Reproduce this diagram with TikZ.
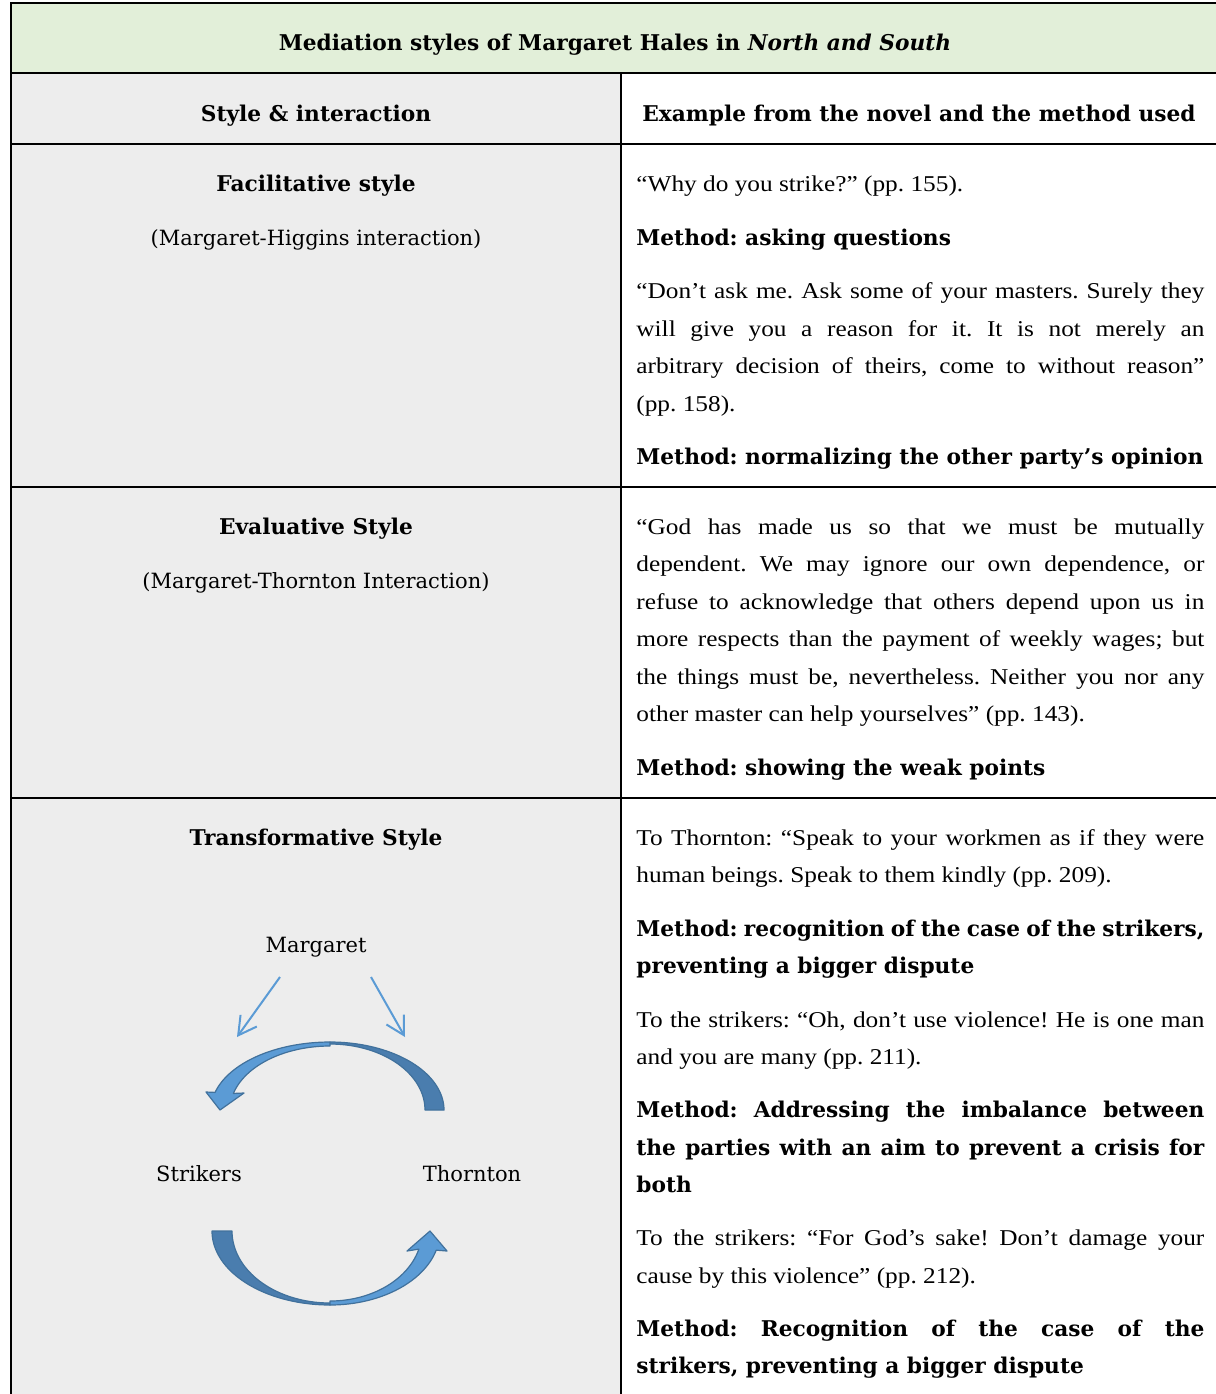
\documentclass[tikz,border=0pt]{standalone}
\usepackage{fontspec}
\setmainfont{DejaVu Serif}
\newfontfamily\qfont[FakeStretch=1.12]{Liberation Serif}
\usetikzlibrary{arrows.meta}
\definecolor{hdrgreen}{HTML}{E2EFD9}
\definecolor{cellgrey}{HTML}{EDEDED}
\definecolor{arrblue}{HTML}{5B9BD5}
\definecolor{arrdark}{HTML}{4A7DAE}
\definecolor{arredge}{HTML}{41719C}
\newcommand\jline[4]{\node[tx,#1] (#2) at (636,#3) {\makebox[284pt][s]{#4}};}
\newcommand\pline[4]{\node[tx,#1] (#2) at (636,#3) {#4};}
\frenchspacing
\begin{document}
\begin{tikzpicture}[x=0.5pt,y=-0.5pt,
  grid line/.style={line width=1.3pt, black},
  tx/.style={inner sep=0pt, anchor=base west},
  txc/.style={inner sep=0pt, anchor=base},
  bodyr/.style={font=\qfont\fontsize{11.3}{14}\selectfont\frenchspacing},
  bodyb/.style={font=\fontsize{10.85}{13}\selectfont\bfseries\frenchspacing},
  leftr/.style={font=\fontsize{10.5}{12}\selectfont},
  thin arrow/.style={draw=arrblue, line width=1pt, -{Straight Barb[length=9pt,width=10pt]}},
  band dark/.style={fill=arrdark, draw=arredge, line width=0.6pt, line join=round},
  band light/.style={fill=arrblue, draw=arredge, line width=0.6pt, line join=round},
]
\useasboundingbox (0,0) rectangle (1216,1394);
\fill[white] (0,0) rectangle (1216,1394);
\fill[hdrgreen] (11,3) rectangle (1216,73);
\fill[cellgrey] (11,73) rectangle (621,1394);
% grid
\draw[grid line] (11,1394) -- (11,3) -- (1216,3);
\draw[grid line] (11,73) -- (1216,73);
\draw[grid line] (11,144) -- (1216,144);
\draw[grid line] (11,487) -- (1216,487);
\draw[grid line] (11,798) -- (1216,798);
\draw[grid line] (621,73) -- (621,1394);
% header
\node[txc, bodyb] (title) at (615,50) {Mediation styles of Margaret Hales in \textit{North and South}};
\node[txc, bodyb] (hl) at (316,121) {Style \& interaction};
\node[txc, bodyb] (hr) at (919,121) {Example from the novel and the method used};
% left column
\node[txc, bodyb] (fac) at (316,191) {Facilitative style};
\node[txc, leftr] (facsub) at (316,245) {(Margaret-Higgins interaction)};
\node[txc, bodyb] (eva) at (316,534) {Evaluative Style};
\node[txc, leftr] (evasub) at (316,588) {(Margaret-Thornton Interaction)};
\node[txc, bodyb] (tra) at (316,845) {Transformative Style};
\node[txc, leftr] (marg) at (316,952) {Margaret};
\node[txc, leftr] (strk) at (199,1181) {Strikers};
\node[txc, leftr] (thor) at (472,1181) {Thornton};
% thin arrows from Margaret
\coordinate (mlA) at (280,977);
\coordinate (mlB) at (237,1037);
\coordinate (mrA) at (371,977);
\coordinate (mrB) at (405,1037);
\draw[thin arrow] (mlA) -- (mlB);
\draw[thin arrow] (mrA) -- (mrB);
% upper curved arrow
\draw[band dark] plot[domain=0:-90,samples=40] ({330+114*cos(\x)},{1110+68*sin(\x)})
  -- plot[domain=-90:0,samples=40] ({330+95*cos(\x)},{1110+66*sin(\x)}) -- cycle;
\draw[band light] plot[domain=-90:-165,samples=40] ({330+119*cos(\x)},{1110+68*sin(\x)})
  -- (206,1092) -- (220,1110) -- (244,1093)
  -- plot[domain=-165:-90,samples=40] ({330+100*cos(\x)},{1110+64*sin(\x)}) -- cycle;
% lower curved arrow
\draw[band dark] plot[domain=180:90,samples=40] ({330+118*cos(\x)},{1231+74*sin(\x)})
  -- plot[domain=90:180,samples=40] ({330+98*cos(\x)},{1231+72*sin(\x)}) -- cycle;
\draw[band light] plot[domain=90:15,samples=40] ({330+110*cos(\x)},{1231+74*sin(\x)})
  -- (447,1251) -- (430,1231) -- (407,1251)
  -- plot[domain=15:90,samples=40] ({330+92*cos(\x)},{1231+70*sin(\x)}) -- cycle;
% right column, row 3
\pline{bodyr}{r3a}{191}{“Why do you strike?” (pp. 155).}
\pline{bodyb}{r3b}{245}{Method: asking questions}
\jline{bodyr}{r3c}{298}{“Don’t ask me. Ask some of your masters. Surely they}
\jline{bodyr}{r3d}{336}{will give you a reason for it. It is not merely an}
\jline{bodyr}{r3e}{373}{arbitrary decision of theirs, come to without reason”}
\pline{bodyr}{r3f}{411}{(pp. 158).}
\pline{bodyb}{r3g}{464}{Method: normalizing the other party’s opinion}
% row 4
\jline{bodyr}{r4a}{534}{“God has made us so that we must be mutually}
\jline{bodyr}{r4b}{571}{dependent. We may ignore our own dependence, or}
\jline{bodyr}{r4c}{609}{refuse to acknowledge that others depend upon us in}
\jline{bodyr}{r4d}{646}{more respects than the payment of weekly wages; but}
\jline{bodyr}{r4e}{684}{the things must be, nevertheless. Neither you nor any}
\pline{bodyr}{r4f}{721}{other master can help yourselves” (pp. 143).}
\pline{bodyb}{r4g}{775}{Method: showing the weak points}
% row 5
\jline{bodyr}{r5a}{845}{To Thornton: “Speak to your workmen as if they were}
\pline{bodyr}{r5b}{882}{human beings. Speak to them kindly (pp. 209).}
\jline{bodyb}{r5c}{936}{Method: recognition of the case of the strikers,}
\pline{bodyb}{r5d}{973}{preventing a bigger dispute}
\jline{bodyr}{r5e}{1027}{To the strikers: “Oh, don’t use violence! He is one man}
\pline{bodyr}{r5f}{1064}{and you are many (pp. 211).}
\jline{bodyb}{r5g}{1117}{Method: Addressing the imbalance between}
\jline{bodyb}{r5h}{1155}{the parties with an aim to prevent a crisis for}
\pline{bodyb}{r5i}{1192}{both}
\jline{bodyr}{r5j}{1245}{To the strikers: “For God’s sake! Don’t damage your}
\pline{bodyr}{r5k}{1283}{cause by this violence” (pp. 212).}
\jline{bodyb}{r5l}{1336}{Method: Recognition of the case of the}
\pline{bodyb}{r5m}{1373}{strikers, preventing a bigger dispute}
\end{tikzpicture}
\end{document}
